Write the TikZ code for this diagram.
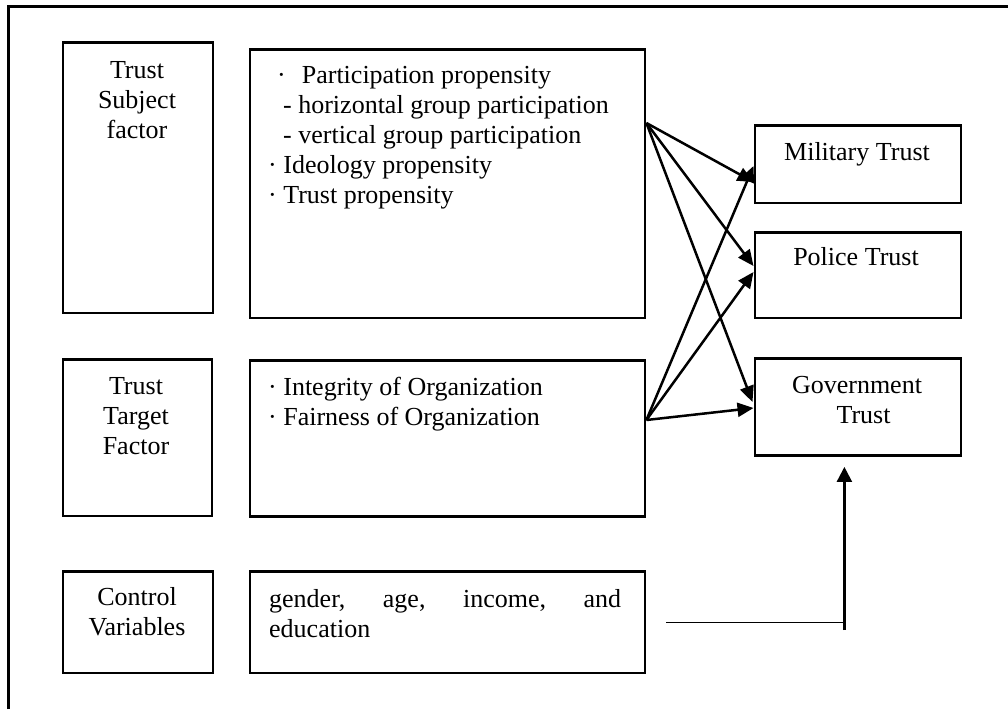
\documentclass[tikz,border=0pt]{standalone}
\usepackage{fontspec}
\setmainfont{Liberation Serif}
\usetikzlibrary{arrows.meta,calc}
\begin{document}
\begin{tikzpicture}[x=1pt,y=-1pt,
  panel/.style={draw, line width=2.9pt, inner sep=0pt, anchor=north west},
  label/.style={inner sep=0pt, font=\fontsize{26}{30}\selectfont, anchor=north, yshift=21pt},
  leftlabel/.style={label, anchor=north west, align=left},
  link/.style={line width=2.5pt, -{Triangle[length=16pt,width=14pt]}}]
\useasboundingbox (0,0) rectangle (1008,709);

% outer frame (top and left edges)
\draw[line width=2.8pt] (8.3,709) -- (8.3,6.5) -- (1008,6.5);

% left column: factor names
\node[panel, minimum width=150pt, minimum height=270pt] (subj) at (61.5,41.5) {};
\node[panel, minimum width=149pt, minimum height=156.5pt] (targ) at (61.5,358) {};
\node[panel, minimum width=150pt, minimum height=101.5pt] (ctrl) at (61.5,570) {};

% middle column: factor contents
\node[panel, minimum width=395pt, minimum height=268.5pt] (partic) at (248.5,48) {};
\node[panel, minimum width=395pt, minimum height=156pt] (orgfac) at (248.5,359) {};
\node[panel, minimum width=395pt, minimum height=101.5pt] (demog) at (248.5,570) {};

% right column: outcomes
\node[panel, minimum width=206pt, minimum height=77.5pt] (mil) at (753.5,124) {};
\node[panel, minimum width=206pt, minimum height=85.5pt] (pol) at (753.5,231) {};
\node[panel, minimum width=206pt, minimum height=97pt] (gov) at (753.5,357) {};

% texts
\node[label, align=center] (tsubj) at (137,78) {\strut Trust\\Subject\\factor};
\node[label, align=center] (ttarg) at (136,394) {\strut Trust\\Target\\Factor};
\node[label, align=center] (tctrl) at (137,605) {\strut Control\\Variables};

\node[leftlabel] (tpartic) at (268,83) {\strut\hspace*{9pt}·\hspace{16pt}Participation propensity\\
  \hspace*{15pt}- horizontal group participation\\
  \hspace*{15pt}- vertical group participation\\
  · Ideology propensity\\
  · Trust propensity};
\node[leftlabel] (torgfac) at (268,395) {\strut · Integrity of Organization\\· Fairness of Organization};
\node[leftlabel] (tdemog) at (269,607) {\strut\makebox[352pt][s]{gender, age, income, and}\\education};

\node[label, align=center] (tmil) at (857,160) {\strut Military Trust};
\node[label, align=center] (tpol) at (856,265) {\strut Police Trust};
\node[label, align=center] (tgov) at (857,393) {\strut Government\\\hspace*{13pt}Trust};

% arrows from the subject and target factors
\coordinate (s1) at ($(partic.north east)+(0,75)$);
\coordinate (s2) at ($(orgfac.north east)+(0,61)$);
\draw[link] (s1) -- ($(mil.north west)+(0,58)$);
\draw[link] (s1) -- ($(pol.north west)+(0,35)$);
\draw[link] (s1) -- ($(gov.north west)+(-1,45)$);
\draw[link] (s2) -- ($(mil.north west)+(0,42)$);
\draw[link] (s2) -- ($(pol.north west)+(0,41)$);
\draw[link] (s2) -- ($(gov.north west)+(0,51)$);

% control variables to government trust
\coordinate (elbow) at ($(demog.east)+(198,0)$);
\coordinate (rise) at ($(elbow)+(0,-74)$);
\draw[line width=1.4pt] ($(demog.east)+(20,0)$) -- (elbow);
\draw[line width=3pt] ($(elbow)+(0,8)$) -- (rise);
\draw[line width=2.3pt, -{Triangle[length=15pt,width=15pt]}, shorten >=10pt] (rise) -- (elbow |- gov.south);
\end{tikzpicture}
\end{document}
